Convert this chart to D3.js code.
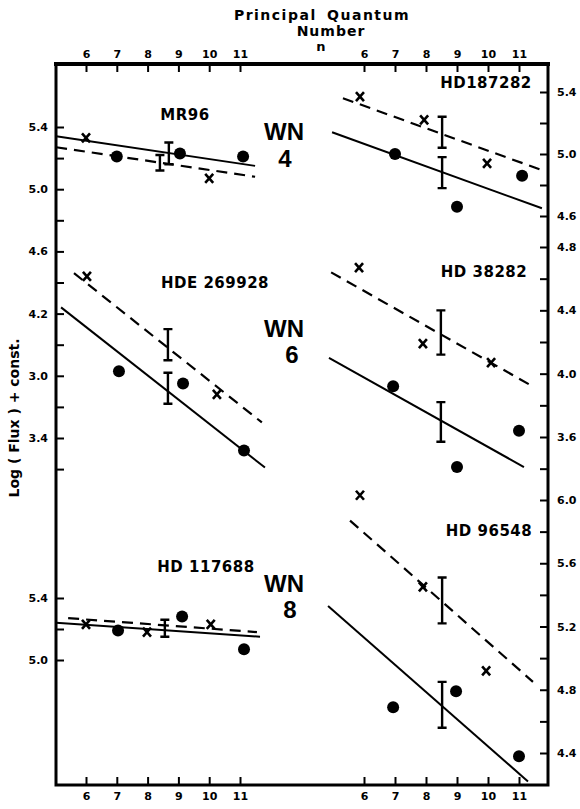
<!DOCTYPE html>
<html>
<head>
<meta charset="utf-8">
<script src="https://cdn.jsdelivr.net/npm/d3@7"></script>
<style>
    body { margin: 0; background: #fff; }
    text { font-family: "DejaVu Sans", sans-serif; font-weight: bold; fill: #000; }
</style>
</head>
<body>
<div id="chart"></div>
<script>
// quantum number ticks, star names, spectral classes
const nTicks = [6, 7, 8, 9, 10, 11];
const starNames = ["MR96", "HD187282", "HDE 269928", "HD 38282", "HD 117688", "HD 96548"];
const wnTypes = ["4", "6", "8"];

// [n, log flux] points, [n, top, bottom] error bars, fit line end points
const mr96Dots = [[7, 5.21], [9.05, 5.23], [11.1, 5.21]];
const mr96Crosses = [[6, 5.33], [10, 5.07]];
const mr96Bars = [[8.69, 5.30, 5.16], [8.4, 5.22, 5.12]];
const mr96Solid = [[5.03, 5.34], [11.49, 5.15]];
const mr96Dashed = [[5.03, 5.27], [11.49, 5.08]];

const hd187282Dots = [[7.0, 5.0], [9.0, 4.66], [11.1, 4.86]];
const hd187282Crosses = [[5.87, 5.37], [7.94, 5.22], [9.97, 4.94]];
const hd187282Bars = [[8.52, 5.24, 5.04], [8.52, 4.98, 4.78]];
const hd187282Solid = [[4.97, 5.14], [11.74, 4.65]];
const hd187282Dashed = [[5.32, 5.36], [11.68, 4.90]];

const hde269928Dots = [[7.07, 3.83], [9.15, 3.75], [11.13, 3.32]];
const hde269928Crosses = [[6.03, 4.44], [10.25, 3.68]];
const hde269928Bars = [[8.66, 4.10, 3.90], [8.66, 3.82, 3.62]];
const hde269928Solid = [[5.19, 4.24], [11.81, 3.21]];
const hde269928Dashed = [[5.61, 4.46], [11.71, 3.50]];

const hd38282Dots = [[6.94, 3.92], [9.0, 3.41], [11.0, 3.64]];
const hd38282Crosses = [[5.84, 4.67], [7.9, 4.19], [10.1, 4.07]];
const hd38282Bars = [[8.48, 4.40, 4.12], [8.48, 3.82, 3.57]];
const hd38282Solid = [[4.87, 4.10], [11.16, 3.41]];
const hd38282Dashed = [[4.94, 4.64], [11.35, 3.93]];

const hd117688Dots = [[7.04, 5.19], [9.12, 5.28], [11.13, 5.07]];
const hd117688Crosses = [[6, 5.23], [7.98, 5.18], [10.05, 5.23]];
const hd117688Bars = [[8.56, 5.26, 5.15]];
const hd117688Solid = [[5.03, 5.24], [11.65, 5.15]];
const hd117688Dashed = [[5.42, 5.27], [11.55, 5.18]];

const hd96548Dots = [[6.94, 4.69], [8.97, 4.79], [11.0, 4.38]];
const hd96548Crosses = [[5.87, 6.03], [7.9, 5.45], [9.94, 4.92]];
const hd96548Bars = [[8.52, 5.51, 5.22], [8.52, 4.85, 4.56]];
const hd96548Solid = [[4.84, 5.33], [11.29, 4.22]];
const hd96548Dashed = [[5.55, 5.87], [11.45, 4.85]];

// y tick values and their printed labels (blank = unlabelled tick)
const leftUpperTicks = [5.4, 5.2, 5.0, 4.8, 4.6, 4.4, 4.2, 4.0, 3.8, 3.6, 3.4, 3.2];
const leftUpperLabels = ["5.4", "", "5.0", "", "4.6", "", "4.2", "", "3.0", "", "3.4", ""];
const leftLowerTicks = [5.4, 5.2, 5.0];
const leftLowerLabels = ["5.4", "", "5.0"];
const rightTopTicks = [5.4, 5.2, 5.0, 4.8, 4.6];
const rightTopLabels = ["5.4", "", "5.0", "", "4.6"];
const rightMidTicks = [4.8, 4.6, 4.4, 4.2, 4.0, 3.8, 3.6, 3.4];
const rightMidLabels = ["4.8", "", "4.4", "", "4.0", "", "3.6", ""];
const rightBotTicks = [6.0, 5.8, 5.6, 5.4, 5.2, 5.0, 4.8, 4.6, 4.4];
const rightBotLabels = ["6.0", "", "5.6", "", "5.2", "", "4.8", "", "4.4"];

function draw() {
    const width = 580, height = 809;
    const frame = { left: 56, top: 64, right: 548, bottom: 785 };

    const svg = d3.select("#chart")
        .append("svg")
        .attr("width", width)
        .attr("height", height);

    // x scales, one per column
    const xLeft = d3.scaleLinear().domain([6, 11]).range([86, 240]);
    const xRight = d3.scaleLinear().domain([6, 11]).range([364, 519]);

    // y scales, one per axis segment
    const yLeftUpper = d3.scaleLinear().domain([5.4, 3.4]).range([127, 438]);
    const yLeftLower = d3.scaleLinear().domain([5.4, 5.0]).range([598, 660]);
    const yRightTop = d3.scaleLinear().domain([5.4, 4.6]).range([92, 216]);
    const yRightMid = d3.scaleLinear().domain([4.8, 3.6]).range([247, 437]);
    const yRightBot = d3.scaleLinear().domain([6.0, 4.4]).range([500, 753]);

    //axes on the frame
    function styleAxis(g, size) {
        g.select(".domain").remove();
        g.selectAll(".tick line").attr("stroke", "#000").attr("stroke-width", 2);
        g.selectAll(".tick text").attr("font-size", size).attr("font-family", "DejaVu Sans").attr("font-weight", "bold");
    }

    [xLeft, xRight].forEach(xs => {
        svg.append("g")
            .attr("transform", "translate(0," + frame.top + ")")
            .call(d3.axisTop(xs).tickValues(nTicks).tickSize(-8).tickPadding(6).tickFormat(d3.format("d")))
            .call(g => styleAxis(g, 11));
        svg.append("g")
            .attr("transform", "translate(0," + frame.bottom + ")")
            .call(d3.axisBottom(xs).tickValues(nTicks).tickSize(-8).tickPadding(7).tickFormat(d3.format("d")))
            .call(g => styleAxis(g, 11));
    });

    const leftAxes = [[yLeftUpper, leftUpperTicks, leftUpperLabels], [yLeftLower, leftLowerTicks, leftLowerLabels]];
    leftAxes.forEach(a => {
        svg.append("g")
            .attr("transform", "translate(" + frame.left + ",0)")
            .call(d3.axisLeft(a[0]).tickValues(a[1]).tickSize(-8).tickPadding(8).tickFormat((d, i) => a[2][i]))
            .call(g => styleAxis(g, 11));
    });

    const rightAxes = [[yRightTop, rightTopTicks, rightTopLabels], [yRightMid, rightMidTicks, rightMidLabels], [yRightBot, rightBotTicks, rightBotLabels]];
    rightAxes.forEach(a => {
        svg.append("g")
            .attr("transform", "translate(" + frame.right + ",0)")
            .call(d3.axisRight(a[0]).tickValues(a[1]).tickSize(-8).tickPadding(9).tickFormat((d, i) => a[2][i]))
            .call(g => styleAxis(g, 11));
    });

    // frame
    svg.append("rect")
        .attr("x", frame.left)
        .attr("y", frame.top)
        .attr("width", frame.right - frame.left)
        .attr("height", frame.bottom - frame.top)
        .attr("fill", "none")
        .attr("stroke", "#000")
        .attr("stroke-width", 3);
    svg.append("line")
        .attr("x1", frame.left - 2).attr("x2", frame.right + 2)
        .attr("y1", frame.top).attr("y2", frame.top)
        .attr("stroke", "#000").attr("stroke-width", 4);

    // titles
    svg.append("text").text("Principal Quantum")
        .attr("x", 322).attr("y", 20).attr("text-anchor", "middle").attr("font-size", 14)
        .attr("letter-spacing", 1.5).attr("word-spacing", 4);
    svg.append("text").text("Number")
        .attr("x", 331).attr("y", 36).attr("text-anchor", "middle").attr("font-size", 14)
        .attr("letter-spacing", 1);
    svg.append("text").text("n")
        .attr("x", 321).attr("y", 51).attr("text-anchor", "middle").attr("font-size", 13);
    svg.append("text").text("Log ( Flux ) + const.")
        .attr("font-size", 14)
        .attr("text-anchor", "middle")
        .attr("transform", "translate(19,418) rotate(-90)");

    // WN class labels
    const wnPos = [[284, 140, 285, 167], [284, 337, 292, 363], [284, 592, 290, 618]];
    wnTypes.forEach((t, i) => {
        svg.append("text").text("WN").attr("x", wnPos[i][0]).attr("y", wnPos[i][1])
            .attr("text-anchor", "middle").attr("font-size", 24)
            .style("font-family", "'Liberation Sans', sans-serif");
        svg.append("text").text(t).attr("x", wnPos[i][2]).attr("y", wnPos[i][3])
            .attr("text-anchor", "middle").attr("font-size", 24)
            .style("font-family", "'Liberation Sans', sans-serif");
    });

    const panels = [
        { x: xLeft, y: yLeftUpper, dots: mr96Dots, crosses: mr96Crosses, bars: mr96Bars, solid: mr96Solid, dashed: mr96Dashed, lx: 185, ly: 120 },
        { x: xRight, y: yRightTop, dots: hd187282Dots, crosses: hd187282Crosses, bars: hd187282Bars, solid: hd187282Solid, dashed: hd187282Dashed, lx: 486, ly: 88 },
        { x: xLeft, y: yLeftUpper, dots: hde269928Dots, crosses: hde269928Crosses, bars: hde269928Bars, solid: hde269928Solid, dashed: hde269928Dashed, lx: 215, ly: 288 },
        { x: xRight, y: yRightMid, dots: hd38282Dots, crosses: hd38282Crosses, bars: hd38282Bars, solid: hd38282Solid, dashed: hd38282Dashed, lx: 484, ly: 277 },
        { x: xLeft, y: yLeftLower, dots: hd117688Dots, crosses: hd117688Crosses, bars: hd117688Bars, solid: hd117688Solid, dashed: hd117688Dashed, lx: 206, ly: 572 },
        { x: xRight, y: yRightBot, dots: hd96548Dots, crosses: hd96548Crosses, bars: hd96548Bars, solid: hd96548Solid, dashed: hd96548Dashed, lx: 489, ly: 536 }
    ];

    panels.forEach((p, i) => {
        const group = svg.append("g");
        const line = d3.line().x(d => p.x(d[0])).y(d => p.y(d[1]));

        group.append("text").text(starNames[i])
            .attr("x", p.lx).attr("y", p.ly)
            .attr("text-anchor", "middle")
            .attr("font-size", 15)
            .attr("letter-spacing", 0.5);

        group.append("path").datum(p.solid)
            .attr("d", line)
            .attr("fill", "none").attr("stroke", "#000").attr("stroke-width", 2);
        group.append("path").datum(p.dashed)
            .attr("d", line)
            .attr("fill", "none").attr("stroke", "#000").attr("stroke-width", 2.2)
            .attr("stroke-dasharray", "11,7");

        group.selectAll(".dot")
            .data(p.dots)
            .enter()
            .append("circle")
            .attr("cx", d => p.x(d[0]))
            .attr("cy", d => p.y(d[1]))
            .attr("r", 6)
            .attr("fill", "#000");

        group.selectAll(".cross")
            .data(p.crosses)
            .enter()
            .append("path")
            .attr("d", d => {
                const cx = p.x(d[0]), cy = p.y(d[1]);
                return "M" + (cx - 4) + "," + (cy - 4.5) + "L" + (cx + 4) + "," + (cy + 4.5) +
                    "M" + (cx + 4) + "," + (cy - 4.5) + "L" + (cx - 4) + "," + (cy + 4.5);
            })
            .attr("stroke", "#000").attr("stroke-width", 2.6).attr("fill", "none");

        group.selectAll(".bar")
            .data(p.bars)
            .enter()
            .append("path")
            .attr("d", d => {
                const bx = p.x(d[0]), t = p.y(d[1]), b = p.y(d[2]);
                return "M" + bx + "," + t + "L" + bx + "," + b +
                    "M" + (bx - 4.5) + "," + t + "L" + (bx + 4.5) + "," + t +
                    "M" + (bx - 4.5) + "," + b + "L" + (bx + 4.5) + "," + b;
            })
            .attr("stroke", "#000").attr("stroke-width", 2.4).attr("fill", "none");
    });
}

window.addEventListener("load", draw);
</script>
</body>
</html>
